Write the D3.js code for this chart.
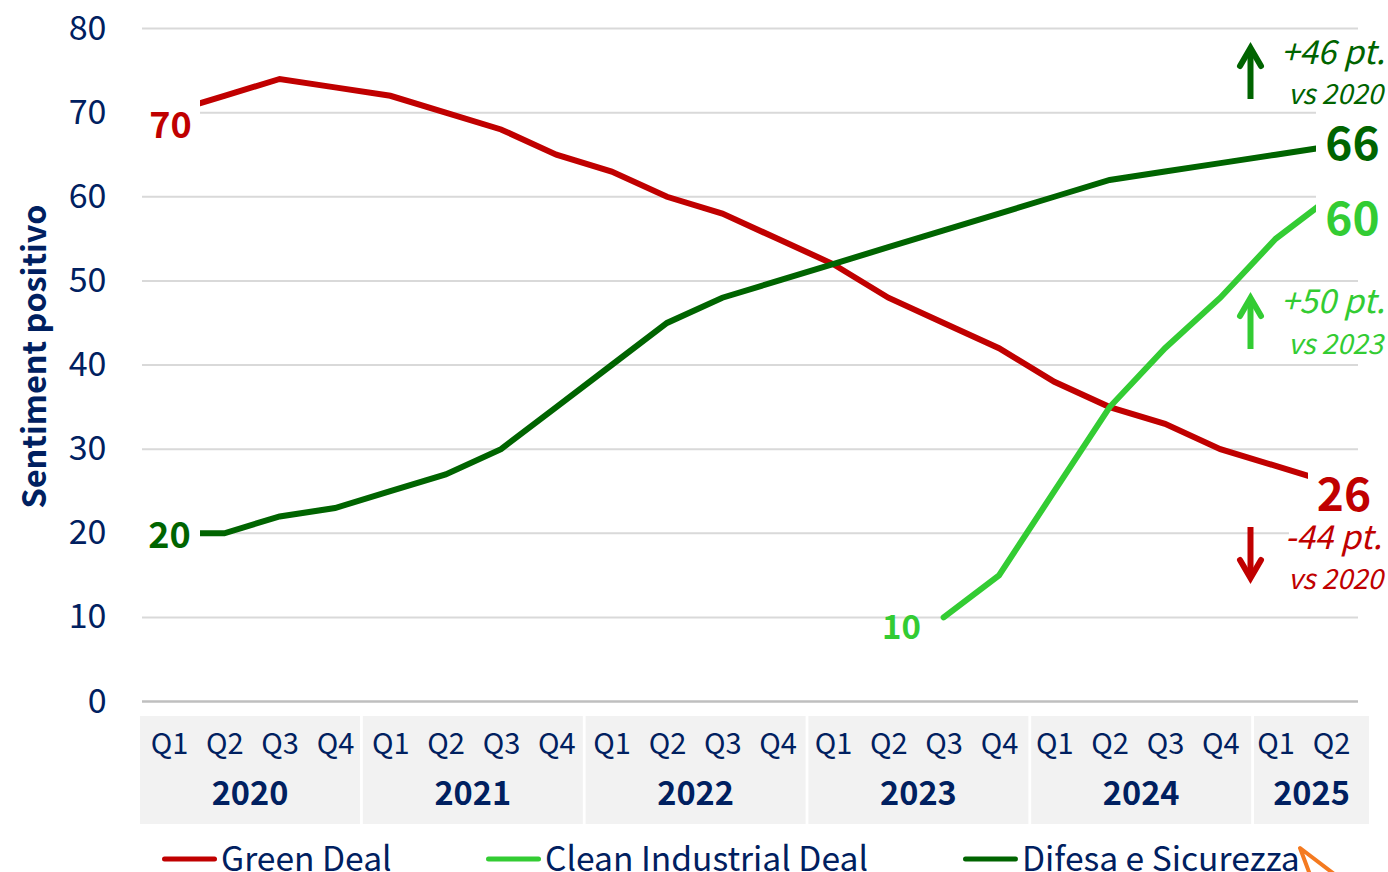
<!DOCTYPE html>
<html><head><meta charset="utf-8">
<script src="https://cdn.jsdelivr.net/npm/d3@7"></script>
<style>
html,body{margin:0;padding:0;background:#fff;overflow:hidden}
svg{display:block}
text{font-family:"Noto Sans CJK SC","Source Sans Pro","Noto Sans",sans-serif}
</style></head><body>
<svg id="c" width="1388" height="872"></svg>
<script>
const quarters=["Q1","Q2","Q3","Q4","Q1","Q2","Q3","Q4","Q1","Q2","Q3","Q4","Q1","Q2","Q3","Q4","Q1","Q2","Q3","Q4","Q1","Q2"];
const years=["2020","2021","2022","2023","2024","2025"];
const yearQuarterCounts=[4,4,4,4,4,2];
const greenDeal=[70,72,74,73,72,70,68,65,63,60,58,55,52,48,45,42,38,35,33,30,28,26];
const cleanIndustrial=[null,null,null,null,null,null,null,null,null,null,null,null,null,null,10,15,25,35,42,48,55,60];
const difesa=[20,20,22,23,25,27,30,35,40,45,48,50,52,54,56,58,60,62,63,64,65,66];
const yTicks=[0,10,20,30,40,50,60,70,80];
const legendNames=["Green Deal","Clean Industrial Deal","Difesa e Sicurezza"];

const RED="#c00000",LIGHT="#33cc33",DARK="#006400",NAVY="#002060";
const svg=d3.select("#c");
const x=d3.scalePoint().domain(d3.range(quarters.length)).range([169,1331]);
const y=d3.scaleLinear().domain([0,80]).range([701.5,28.5]);
const xGroup=d3.scaleLinear().domain([0,20]).range([140,1254]);

// grid
const yAxis=d3.axisLeft(y).tickValues(yTicks).tickSize(0).tickPadding(0);
const gy=svg.append("g").attr("transform","translate(106.5,-1)").call(yAxis);
gy.select(".domain").remove();
gy.selectAll("text").attr("fill",NAVY).style("font-size","34px").attr("dy","0.34em").attr("x",0);
svg.append("g").selectAll("line").data(yTicks).join("line")
  .attr("x1",142).attr("x2",1358).attr("y1",d=>y(d)).attr("y2",d=>y(d))
  .attr("stroke",d=>d===0?"#bfbfbf":"#d9d9d9").attr("stroke-width",d=>d===0?2.5:2);

// category bands
let start=0;
const groups=years.map((yr,i)=>{const g={yr,start,n:yearQuarterCounts[i]};start+=g.n;return g;});
const gb=svg.append("g");
groups.forEach((g,i)=>{
  const x0=xGroup(g.start);
  const x1=i===groups.length-1?1369:xGroup(g.start+g.n)-2.8;
  gb.append("rect").attr("x",x0).attr("y",716).attr("width",x1-x0).attr("height",108).attr("fill","#f2f2f2");
  gb.append("text").attr("x",(x0+x1)/2).attr("y",805).attr("text-anchor","middle")
    .attr("fill",NAVY).attr("font-weight",700).style("font-size","32.5px").text(g.yr);
});
const xAxis=d3.axisBottom(x).tickSize(0).tickPadding(0).tickFormat(i=>quarters[i]);
const gx=svg.append("g").attr("transform","translate(0,754)").call(xAxis);
gx.select(".domain").remove();
gx.selectAll("text").attr("fill",NAVY).style("font-size","29px").attr("y",0).attr("dy",0);

// lines
const line=d3.line().defined(d=>d!=null).x((d,i)=>x(i)).y(d=>y(d)).curve(d3.curveLinear);
[[greenDeal,RED,"butt"],[difesa,DARK,"butt"],[cleanIndustrial,LIGHT,"round"]].forEach(([s,c,cap])=>{
  svg.append("path").datum(s).attr("d",line).attr("fill","none").attr("stroke",c)
    .attr("stroke-width",6).attr("stroke-linecap",cap);
});

// white masks behind the value labels
[[142,100,58,45],[142,515,58,40],[1316,105,72,140],[1308,470,80,50],[1289,520,99,76]].forEach(r=>{
  svg.append("rect").attr("x",r[0]).attr("y",r[1]).attr("width",r[2]).attr("height",r[3]).attr("fill","#fff");
});

// value labels
function label(tx,ty,t,c,size,o={}){
  svg.append("text").attr("x",tx).attr("y",ty).attr("text-anchor",o.anchor||"middle").attr("fill",c)
    .attr("font-weight",o.weight||700).attr("font-style",o.style||"normal").style("font-size",size+"px").text(t);
}
label(170.5,138,greenDeal[0],RED,36);
label(169.5,548,difesa[0],DARK,36);
label(901.5,639,cleanIndustrial[14],LIGHT,33);
label(1352.5,160,difesa[21],DARK,46);
label(1352.5,235,cleanIndustrial[21],LIGHT,46);
label(1344,511,greenDeal[21],RED,46);

// deltas
const it={anchor:"end",weight:400,style:"italic"};
label(1385,64,"+46 pt.",DARK,33,it);
label(1383,104,"vs 2020",DARK,27.7,it);
label(1385,313,"+50 pt.",LIGHT,33,it);
label(1383,354,"vs 2023",LIGHT,27.7,it);
label(1382,549,"-44 pt.",RED,33,it);
label(1383,589,"vs 2020",RED,27.7,it);

function arrow(ax,from,to,c){
  const dir=to<from?1:-1;
  svg.append("line").attr("x1",ax).attr("x2",ax).attr("y1",from).attr("y2",to+dir*6)
    .attr("stroke",c).attr("stroke-width",6);
  svg.append("path").attr("d",`M${ax-10.5},${to+dir*24}L${ax},${to+dir*6}L${ax+10.5},${to+dir*24}`)
    .attr("fill","none").attr("stroke",c).attr("stroke-width",6).attr("stroke-linecap","round").attr("stroke-linejoin","miter");
}
arrow(1250.5,99,42,DARK);
arrow(1250.5,349,292,LIGHT);
arrow(1250.5,527,584,RED);

// y title
svg.append("text").attr("transform","translate(46,356.5) rotate(-90)").attr("text-anchor","middle")
  .attr("fill",NAVY).attr("font-weight",700).style("font-size","32.4px").text("Sentiment positivo");

// legend
[[162,217,RED],[486,541,LIGHT],[963,1018,DARK]].forEach((l,i)=>{
  svg.append("line").attr("x1",l[0]+2.5).attr("x2",l[1]-2.5).attr("y1",859).attr("y2",859)
    .attr("stroke",l[2]).attr("stroke-width",5).attr("stroke-linecap","round");
  svg.append("text").attr("x",l[1]+4).attr("y",871).attr("fill",NAVY).style("font-size","33.6px").text(legendNames[i]);
});

// stray orange annotation arrow, cropped by the bottom edge
svg.append("path").attr("d","M1312,880L1300,848L1342,880").attr("fill","none").attr("stroke","#f47a20")
  .attr("stroke-width",4).attr("stroke-linejoin","round");
</script>
</body></html>
